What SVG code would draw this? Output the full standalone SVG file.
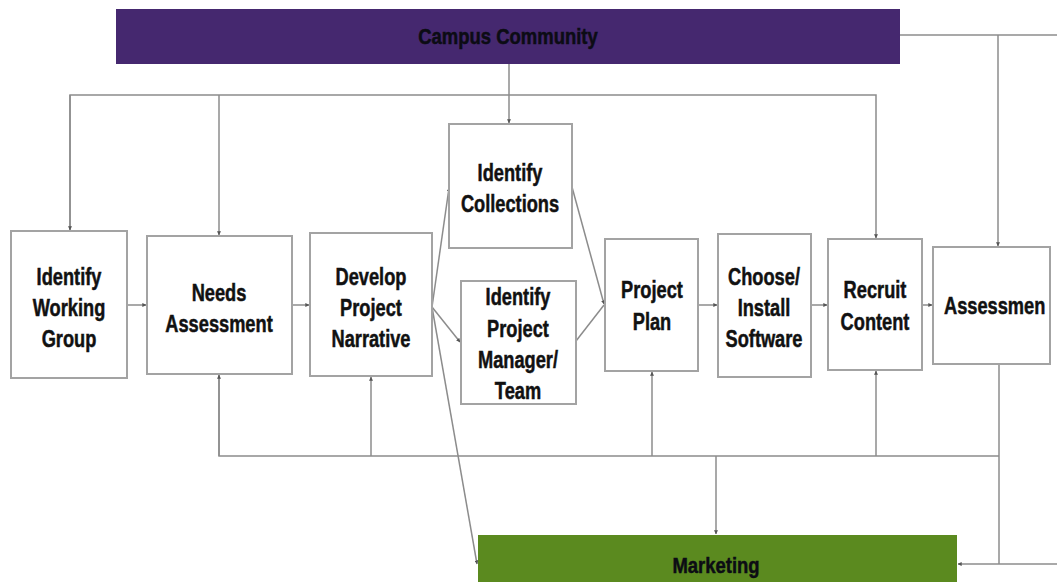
<svg xmlns="http://www.w3.org/2000/svg" width="1057" height="582" viewBox="0 0 1057 582">
<defs>
<style>
.box{fill:#ffffff;stroke:#a3a3a3;stroke-width:2}
.ln{fill:none;stroke:#8c8c8c;stroke-width:1.5}
.t{font-family:"Liberation Sans",Arial,sans-serif;font-weight:bold;font-size:24px;fill:#111;stroke:#111;stroke-width:0.5;text-anchor:middle}
.tb{font-family:"Liberation Sans",Arial,sans-serif;font-weight:bold;font-size:22px;fill:#0c0c14;stroke:#0c0c14;stroke-width:0.5;text-anchor:middle}
</style>
<marker id="ah" viewBox="0 0 6 6" refX="5.5" refY="3" markerWidth="4" markerHeight="4" orient="auto" markerUnits="userSpaceOnUse">
<path d="M0,0 L6,3 L0,6 z" fill="#555"/>
</marker>
</defs>
<rect width="1057" height="582" fill="#ffffff"/>

<g id="connectors">
<line class="ln" x1="509" y1="64" x2="509" y2="123" marker-end="url(#ah)"/>
<polyline class="ln" points="70,230 70,95 876,95 876,238" marker-end="url(#ah)"/>
<line class="ln" x1="70" y1="95" x2="70" y2="230" marker-end="url(#ah)"/>
<line class="ln" x1="219" y1="95" x2="219" y2="235" marker-end="url(#ah)"/>
<polyline class="ln" points="900,35 1057,35"/>
<line class="ln" x1="998" y1="35" x2="998" y2="246" marker-end="url(#ah)"/>
<line class="ln" x1="127" y1="305" x2="146" y2="305" marker-end="url(#ah)"/>
<line class="ln" x1="292" y1="305" x2="309" y2="305" marker-end="url(#ah)"/>
<line class="ln" x1="698" y1="305" x2="717" y2="305" marker-end="url(#ah)"/>
<line class="ln" x1="811" y1="305" x2="827" y2="305" marker-end="url(#ah)"/>
<line class="ln" x1="922" y1="305" x2="932" y2="305" marker-end="url(#ah)"/>
<line class="ln" x1="432" y1="307" x2="449" y2="188" marker-end="url(#ah)"/>
<line class="ln" x1="432" y1="307" x2="460" y2="342" marker-end="url(#ah)"/>
<line class="ln" x1="572" y1="187" x2="604" y2="304" marker-end="url(#ah)"/>
<line class="ln" x1="576" y1="341" x2="604" y2="305"/>
<line class="ln" x1="432" y1="307" x2="477" y2="564" marker-end="url(#ah)"/>
<polyline class="ln" points="219,375 219,456 999,456"/>
<line class="ln" x1="219" y1="456" x2="219" y2="375" marker-end="url(#ah)"/>
<line class="ln" x1="371" y1="456" x2="371" y2="377" marker-end="url(#ah)"/>
<line class="ln" x1="652" y1="456" x2="652" y2="372" marker-end="url(#ah)"/>
<line class="ln" x1="876" y1="456" x2="876" y2="371" marker-end="url(#ah)"/>
<line class="ln" x1="716" y1="456" x2="716" y2="534" marker-end="url(#ah)"/>
<line class="ln" x1="999" y1="364" x2="999" y2="564"/>
<line class="ln" x1="1057" y1="564" x2="958" y2="564" marker-end="url(#ah)"/>
</g>

<g id="campus">
<rect x="116" y="9" width="784" height="55" fill="#45286f"/>
<text class="tb" transform="translate(508,0) scale(0.84,1)" x="0" y="44">Campus Community</text>
</g>

<g id="identify-working-group">
<rect class="box" x="11" y="231" width="116" height="147"/>
<text class="t" transform="translate(69,0) scale(0.76,1)"><tspan x="0" y="285">Identify</tspan><tspan x="0" y="316">Working</tspan><tspan x="0" y="347">Group</tspan></text>
</g>

<g id="needs-assessment">
<rect class="box" x="147" y="236" width="145" height="138"/>
<text class="t" transform="translate(219,0) scale(0.76,1)"><tspan x="0" y="301">Needs</tspan><tspan x="0" y="332">Assessment</tspan></text>
</g>

<g id="develop-project-narrative">
<rect class="box" x="310" y="233" width="122" height="143"/>
<text class="t" transform="translate(371,0) scale(0.76,1)"><tspan x="0" y="285">Develop</tspan><tspan x="0" y="316">Project</tspan><tspan x="0" y="347">Narrative</tspan></text>
</g>

<g id="identify-collections">
<rect class="box" x="449" y="124" width="123" height="124"/>
<text class="t" transform="translate(510,0) scale(0.76,1)"><tspan x="0" y="181">Identify</tspan><tspan x="0" y="212">Collections</tspan></text>
</g>

<g id="identify-project-manager">
<rect class="box" x="461" y="281" width="115" height="123"/>
<text class="t" transform="translate(518,0) scale(0.76,1)"><tspan x="0" y="305">Identify</tspan><tspan x="0" y="337">Project</tspan><tspan x="0" y="368">Manager/</tspan><tspan x="0" y="399">Team</tspan></text>
</g>

<g id="project-plan">
<rect class="box" x="605" y="239" width="93" height="132"/>
<text class="t" transform="translate(652,0) scale(0.76,1)"><tspan x="0" y="298">Project</tspan><tspan x="0" y="330">Plan</tspan></text>
</g>

<g id="choose-install-software">
<rect class="box" x="718" y="234" width="93" height="143"/>
<text class="t" transform="translate(764,0) scale(0.76,1)"><tspan x="0" y="285">Choose/</tspan><tspan x="0" y="316">Install</tspan><tspan x="0" y="347">Software</tspan></text>
</g>

<g id="recruit-content">
<rect class="box" x="828" y="239" width="94" height="131"/>
<text class="t" transform="translate(875,0) scale(0.76,1)"><tspan x="0" y="298">Recruit</tspan><tspan x="0" y="330">Content</tspan></text>
</g>

<g id="assessment">
<rect class="box" x="933" y="247" width="117" height="117"/>
<text class="t" transform="translate(944,0) scale(0.76,1)" x="0" y="314" style="text-anchor:start">Assessmen</text>
</g>

<g id="marketing">
<rect x="478" y="535" width="479" height="50" fill="#5b8a1f"/>
<text class="tb" transform="translate(716,0) scale(0.84,1)" x="0" y="573">Marketing</text>
</g>
</svg>
